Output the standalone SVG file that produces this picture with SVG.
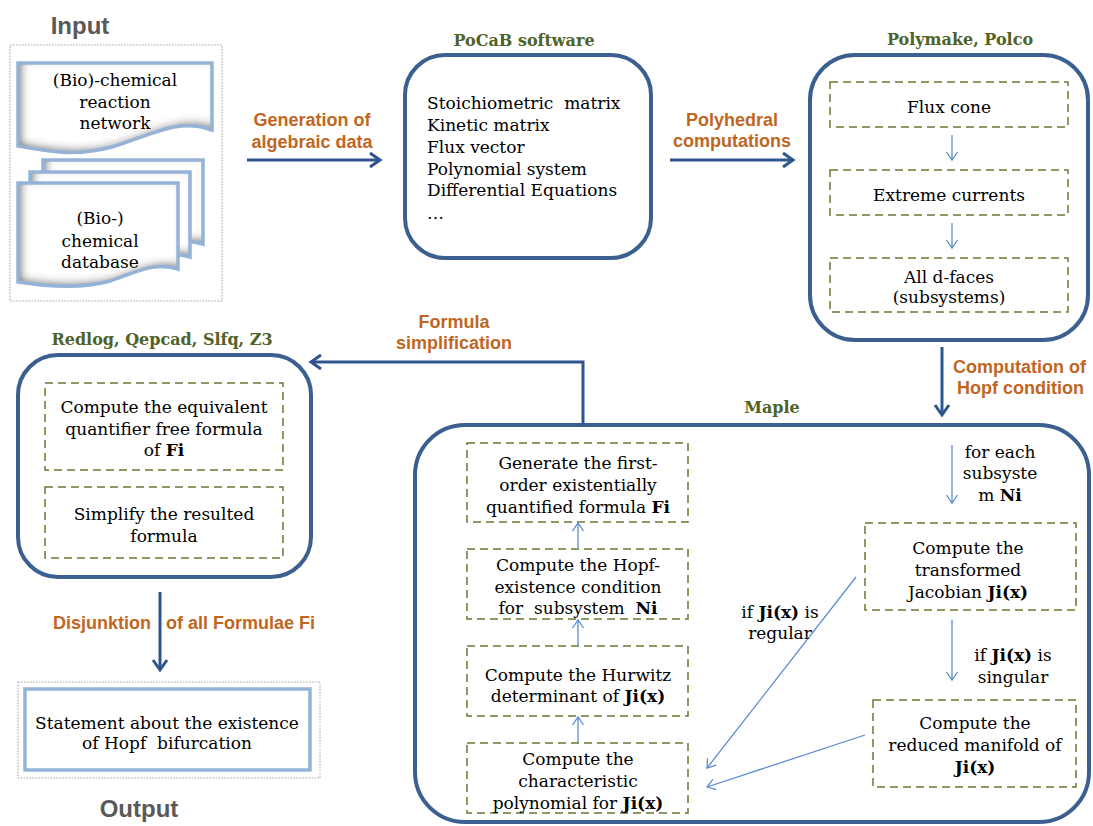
<svg xmlns="http://www.w3.org/2000/svg" width="1093" height="826" viewBox="0 0 1093 826">
<style>
.ser{font-family:"DejaVu Serif","Liberation Serif",serif;font-size:17px;fill:#000}
.c{text-anchor:middle}
.b{font-weight:bold}
.lbl{font-family:"Liberation Sans",Arial,sans-serif;font-weight:bold;font-size:18px;fill:#c0661f}
.ttl{font-family:"DejaVu Serif","Liberation Serif",serif;font-weight:bold;font-size:16px;fill:#4f6228;text-anchor:middle}
.io{font-family:"Liberation Sans",Arial,sans-serif;font-weight:bold;font-size:24px;fill:#595959;text-anchor:middle}
.big{fill:#fff;stroke:#3b5f8f;stroke-width:4}
.dash{fill:none;stroke:#647a33;stroke-width:1.5;stroke-dasharray:8 5}
.flow{stroke:#2f5590;stroke-width:3;fill:none}
.thin{stroke:#5b8ed0;stroke-width:1.3;fill:none}
.docf{fill:#fff}
.docs{fill:none;stroke:#95b3d7;stroke-width:3.5}
.dot{fill:#fff;stroke:#a0a0a0;stroke-width:1;stroke-dasharray:1.5 1.5}
</style>
<defs>
<marker id="ah" markerUnits="userSpaceOnUse" markerWidth="18" markerHeight="18" refX="14" refY="9" orient="auto">
<path d="M4,2 L14,9 L4,16" fill="none" stroke="#2f5590" stroke-width="3"/>
</marker>
<marker id="at" markerUnits="userSpaceOnUse" markerWidth="14" markerHeight="14" refX="11" refY="7" orient="auto">
<path d="M3,1.5 L11,7 L3,12.5" fill="none" stroke="#5b8ed0" stroke-width="1.3"/>
</marker>
<filter id="inner" x="-10%" y="-10%" width="120%" height="120%">
<feComponentTransfer in="SourceAlpha" result="inv"><feFuncA type="table" tableValues="1 0"/></feComponentTransfer>
<feGaussianBlur in="inv" stdDeviation="4" result="bl"/>
<feOffset in="bl" dx="4" dy="-3" result="of"/>
<feComposite in="of" in2="SourceAlpha" operator="in" result="s"/>
<feFlood flood-color="#555" flood-opacity="0.9"/>
<feComposite in2="s" operator="in" result="sh"/>
<feMerge><feMergeNode in="SourceGraphic"/><feMergeNode in="sh"/></feMerge>
</filter>
<path id="doc1" d="M18,63 H212 V130 C178,117 150,136 112,147 C75,157 45,151 18,146 Z"/>
<path id="docA" d="M43,160 H203 V244 C180,236 160,248 135,256 C110,263 75,262 43,257 Z"/>
<path id="docB" d="M30,172 H190 V257 C167,249 147,261 122,269 C97,276 62,275 30,270 Z"/>
<path id="docC" d="M18,183 H178 V269 C155,261 135,273 110,281 C85,288 50,287 18,282 Z"/>
</defs>

<g id="input">
<text class="io" x="80" y="34">Input</text>
<rect class="dot" x="10" y="45" width="212" height="256"/>
<g id="doc-network">
<use href="#doc1" class="docf" filter="url(#inner)"/>
<use href="#doc1" class="docs"/>
<text class="ser c" x="115" y="86">(Bio)-chemical</text>
<text class="ser c" x="115" y="108">reaction</text>
<text class="ser c" x="115" y="129">network</text>
</g>
<g id="doc-database">
<use href="#docA" class="docf" filter="url(#inner)"/>
<use href="#docA" class="docs"/>
<use href="#docB" class="docf" filter="url(#inner)"/>
<use href="#docB" class="docs"/>
<use href="#docC" class="docf" filter="url(#inner)"/>
<use href="#docC" class="docs"/>
<text class="ser c" x="100" y="224">(Bio-)</text>
<text class="ser c" x="100" y="247">chemical</text>
<text class="ser c" x="100" y="268">database</text>
</g>
</g>

<g id="pocab">
<text class="ttl" x="524" y="46">PoCaB software</text>
<rect class="big" x="405" y="55" width="246" height="203" rx="40"/>
<text class="ser" x="427" y="109">Stoichiometric&#160; matrix</text>
<text class="ser" x="427" y="131">Kinetic matrix</text>
<text class="ser" x="427" y="153">Flux vector</text>
<text class="ser" x="427" y="175">Polynomial system</text>
<text class="ser" x="427" y="196">Differential Equations</text>
<text class="ser" x="427" y="219" font-size="14">…</text>
</g>

<g id="polymake">
<text class="ttl" x="960" y="45">Polymake, Polco</text>
<rect class="big" x="810" y="55" width="278" height="285" rx="45"/>
<g id="flux-cone">
<rect class="dash" x="830" y="82" width="238" height="45"/>
<text class="ser c" x="949" y="113">Flux cone</text>
</g>
<g id="extreme-currents">
<rect class="dash" x="830" y="170" width="238" height="45"/>
<text class="ser c" x="949" y="201">Extreme currents</text>
</g>
<g id="d-faces">
<rect class="dash" x="830" y="258" width="238" height="54"/>
<text class="ser c" x="949" y="283">All d-faces</text>
<text class="ser c" x="949" y="303">(subsystems)</text>
</g>
</g>

<g id="redlog">
<text class="ttl" x="162" y="345">Redlog, Qepcad, Slfq, Z3</text>
<rect class="big" x="18" y="355" width="293" height="222" rx="40"/>
<g id="qe">
<rect class="dash" x="45" y="383" width="238" height="87"/>
<text class="ser c" x="164" y="413">Compute the equivalent</text>
<text class="ser c" x="164" y="435">quantifier free formula</text>
<text class="ser c" x="164" y="456">of <tspan class="b">Fi</tspan></text>
</g>
<g id="simplify">
<rect class="dash" x="45" y="487" width="238" height="71"/>
<text class="ser c" x="164" y="520">Simplify the resulted</text>
<text class="ser c" x="164" y="542">formula</text>
</g>
</g>

<g id="output">
<rect class="dot" x="18" y="682" width="302" height="96"/>
<rect x="25" y="689" width="285" height="81" fill="#fff" stroke="#95b3d7" stroke-width="3.5"/>
<text class="ser c" x="167" y="729">Statement about the existence</text>
<text class="ser c" x="167" y="749">of Hopf&#160; bifurcation</text>
<text class="io" x="139" y="817">Output</text>
</g>

<g id="maple">
<text class="ttl" x="772" y="413">Maple</text>
<rect class="big" x="415" y="425" width="674" height="397" rx="50"/>
<g id="gen-formula">
<rect class="dash" x="467" y="443" width="221" height="79"/>
<text class="ser c" x="578" y="469">Generate the first-</text>
<text class="ser c" x="578" y="491">order existentially</text>
<text class="ser c" x="578" y="513">quantified formula <tspan class="b">Fi</tspan></text>
</g>
<g id="hopf-cond">
<rect class="dash" x="467" y="549" width="221" height="70"/>
<text class="ser c" x="578" y="571">Compute the Hopf-</text>
<text class="ser c" x="578" y="593">existence condition</text>
<text class="ser c" x="578" y="614">for&#160; subsystem&#160; <tspan class="b">Ni</tspan></text>
</g>
<g id="hurwitz">
<rect class="dash" x="467" y="646" width="221" height="70"/>
<text class="ser c" x="578" y="681">Compute the Hurwitz</text>
<text class="ser c" x="578" y="702">determinant of <tspan class="b">Ji(x)</tspan></text>
</g>
<g id="charpoly">
<rect class="dash" x="467" y="743" width="221" height="70"/>
<text class="ser c" x="578" y="765">Compute the</text>
<text class="ser c" x="578" y="787">characteristic</text>
<text class="ser c" x="578" y="809">polynomial for <tspan class="b">Ji(x)</tspan></text>
</g>
<g id="jacobian">
<rect class="dash" x="865" y="523" width="211" height="87"/>
<text class="ser c" x="968" y="554">Compute the</text>
<text class="ser c" x="968" y="576">transformed</text>
<text class="ser c" x="968" y="598">Jacobian <tspan class="b">Ji(x)</tspan></text>
</g>
<g id="reduced">
<rect class="dash" x="873" y="700" width="203" height="87"/>
<text class="ser c" x="975" y="729">Compute the</text>
<text class="ser c" x="975" y="751">reduced manifold of</text>
<text class="ser c" x="975" y="773" font-weight="bold">Ji(x)</text>
</g>
</g>

<g id="connectors">
<line class="flow" x1="247" y1="160" x2="380" y2="160" marker-end="url(#ah)"/>
<text class="lbl c" x="312" y="126">Generation of</text>
<text class="lbl c" x="312" y="148">algebraic data</text>
<line class="flow" x1="670" y1="160" x2="793" y2="160" marker-end="url(#ah)"/>
<text class="lbl c" x="732" y="126">Polyhedral</text>
<text class="lbl c" x="732" y="147">computations</text>
<line class="thin" x1="952" y1="135" x2="952" y2="160" marker-end="url(#at)"/>
<line class="thin" x1="952" y1="223" x2="952" y2="248" marker-end="url(#at)"/>
<line class="flow" x1="942" y1="347" x2="942" y2="415" marker-end="url(#ah)"/>
<text class="lbl" x="953" y="373">Computation of</text>
<text class="lbl" x="957" y="394">Hopf condition</text>
<polyline class="flow" points="583,425 583,362 311,362" marker-end="url(#ah)"/>
<text class="lbl c" x="454" y="328">Formula</text>
<text class="lbl c" x="454" y="349">simplification</text>
<line class="flow" x1="160" y1="592" x2="160" y2="670" marker-end="url(#ah)"/>
<text class="lbl" x="151" y="629" text-anchor="end">Disjunktion</text>
<text class="lbl" x="166" y="629">of all Formulae Fi</text>
<line class="thin" x1="578" y1="549" x2="578" y2="523" marker-end="url(#at)"/>
<line class="thin" x1="578" y1="646" x2="578" y2="620" marker-end="url(#at)"/>
<line class="thin" x1="578" y1="743" x2="578" y2="717" marker-end="url(#at)"/>
<line class="thin" x1="952" y1="445" x2="952" y2="503" marker-end="url(#at)"/>
<text class="ser c" x="1000" y="458">for each</text>
<text class="ser c" x="1000" y="479">subsyste</text>
<text class="ser c" x="1000" y="501">m <tspan class="b">Ni</tspan></text>
<line class="thin" x1="952" y1="620" x2="952" y2="680" marker-end="url(#at)"/>
<text class="ser c" x="1013" y="661">if <tspan class="b">Ji(x)</tspan> is</text>
<text class="ser c" x="1013" y="683">singular</text>
<line class="thin" x1="856" y1="577" x2="707" y2="768" marker-end="url(#at)"/>
<text class="ser c" x="780" y="618">if <tspan class="b">Ji(x)</tspan> is</text>
<text class="ser c" x="780" y="639">regular</text>
<line class="thin" x1="865" y1="735" x2="707" y2="787" marker-end="url(#at)"/>
</g>
</svg>
